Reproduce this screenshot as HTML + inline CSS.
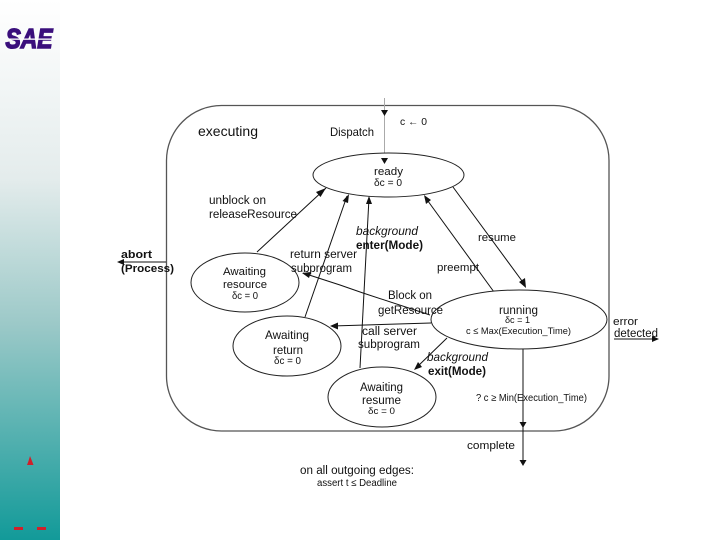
<!DOCTYPE html>
<html>
<head>
<meta charset="utf-8">
<style>
html,body{margin:0;padding:0;background:#fff;}
svg{display:block;}
text{font-family:"Liberation Sans",sans-serif;fill:#111;}
.b{font-weight:bold;}
.i{font-style:italic;}
</style>
</head>
<body>
<svg width="720" height="540" viewBox="0 0 720 540" xmlns="http://www.w3.org/2000/svg">
<defs>
<linearGradient id="g" x1="0" y1="0" x2="0" y2="1">
<stop offset="0" stop-color="#ffffff"/>
<stop offset="0.33" stop-color="#e4ecec"/>
<stop offset="0.6" stop-color="#9cc9c8"/>
<stop offset="1" stop-color="#129a99"/>
</linearGradient>
</defs>
<rect x="0" y="0" width="60" height="540" fill="url(#g)"/>

<!-- logo -->
<text x="5.500" y="48" font-size="28" class="b i" style="fill:#3a0f7c;stroke:#3a0f7c;stroke-width:1.500" textLength="47" lengthAdjust="spacingAndGlyphs">SAE</text>
<rect x="9" y="38.500" width="44" height="1.300" fill="#ffffff"/>

<!-- red marks -->
<polygon points="30,456 32,461 33.500,465 27,465 28.500,461" fill="#d0202a"/>
<rect x="14" y="527" width="9" height="3" fill="#d0202a"/>
<rect x="37" y="527" width="9" height="3" fill="#d0202a"/>

<!-- container -->
<rect x="166.500" y="105.500" width="442.500" height="325.500" rx="55" ry="55" fill="none" stroke="#555" stroke-width="1.300"/>

<!-- connectors -->
<g fill="none" stroke="#111" stroke-width="1">
<line x1="384.500" y1="98" x2="384.500" y2="160" stroke="#aaa"/>
<line x1="257" y1="252" x2="326" y2="188"/>
<line x1="305" y1="317" x2="347" y2="196"/>
<line x1="360" y1="368" x2="369" y2="198"/>
<line x1="494" y1="292" x2="425" y2="197"/>
<line x1="453" y1="187" x2="525" y2="285"/>
<path d="M430,315 L363,293 L340,285 L303,273"/>
<line x1="431" y1="323" x2="332" y2="326"/>
<line x1="447" y1="338" x2="416" y2="368"/>
<line x1="523" y1="349" x2="523" y2="462"/>
<line x1="121" y1="262" x2="166" y2="262"/>
<line x1="614" y1="339" x2="655" y2="339"/>
</g>

<!-- ellipses -->
<g fill="#fff" stroke="#222" stroke-width="1">
<ellipse cx="388.500" cy="175" rx="75.500" ry="22"/>
<ellipse cx="245" cy="282.500" rx="54" ry="29.500"/>
<ellipse cx="287" cy="346" rx="54" ry="30"/>
<ellipse cx="382" cy="397" rx="54" ry="30"/>
<ellipse cx="519" cy="319.500" rx="88" ry="29.500"/>
</g>

<!-- arrowheads -->
<g fill="#111">
<polygon points="384.500,116 381,110 388,110"/>
<polygon points="384.500,164 381,158 388,158"/>
<polygon points="326,188 320.500,197 316,192"/>
<polygon points="349,194 348,203 342.500,201"/>
<polygon points="369,196 372,204 366,204"/>
<polygon points="424,195 431,200 426,204"/>
<polygon points="526,288 519,282 525,278"/>
<polygon points="302,273 311,272 309,278"/>
<polygon points="330,326 338,322.500 338,329.500"/>
<polygon points="414,370 418,362 422,367"/>
<polygon points="523,428 519.500,422 526.500,422"/>
<polygon points="523,466 519.500,460 526.500,460"/>
<polygon points="117,262 124,259 124,265"/>
<polygon points="659,339 652,336 652,342"/>
</g>

<!-- labels -->
<text x="198" y="136" font-size="13.500" textLength="60" lengthAdjust="spacingAndGlyphs">executing</text>
<text x="330" y="136" font-size="12" textLength="44" lengthAdjust="spacingAndGlyphs">Dispatch</text>
<text x="400" y="125" font-size="10" textLength="27" lengthAdjust="spacingAndGlyphs">c ← 0</text>

<text x="374" y="175" font-size="11" textLength="29" lengthAdjust="spacingAndGlyphs">ready</text>
<text x="374" y="186" font-size="10.500" textLength="28" lengthAdjust="spacingAndGlyphs">δc = 0</text>

<text x="209" y="204" font-size="11.500" textLength="57" lengthAdjust="spacingAndGlyphs">unblock on</text>
<text x="209" y="218" font-size="11.500" textLength="88" lengthAdjust="spacingAndGlyphs">releaseResource</text>

<text x="356" y="235" font-size="12" class="i" textLength="62" lengthAdjust="spacingAndGlyphs">background</text>
<text x="356" y="249" font-size="12" class="b" textLength="67" lengthAdjust="spacingAndGlyphs">enter(Mode)</text>

<text x="478" y="241" font-size="11" textLength="38" lengthAdjust="spacingAndGlyphs">resume</text>
<text x="437" y="271" font-size="11" textLength="42" lengthAdjust="spacingAndGlyphs">preempt</text>

<text x="290" y="258" font-size="11.500" textLength="67" lengthAdjust="spacingAndGlyphs">return server</text>
<text x="291" y="272" font-size="11.500" textLength="61" lengthAdjust="spacingAndGlyphs">subprogram</text>

<text x="121" y="258" font-size="11" class="b" textLength="31" lengthAdjust="spacingAndGlyphs">abort</text>
<text x="121" y="272" font-size="11" class="b" textLength="53" lengthAdjust="spacingAndGlyphs">(Process)</text>

<text x="223" y="275" font-size="11" textLength="43" lengthAdjust="spacingAndGlyphs">Awaiting</text>
<text x="223" y="288" font-size="11" textLength="44" lengthAdjust="spacingAndGlyphs">resource</text>
<text x="232" y="299" font-size="10" textLength="26" lengthAdjust="spacingAndGlyphs">δc = 0</text>

<text x="265" y="339" font-size="12" textLength="44" lengthAdjust="spacingAndGlyphs">Awaiting</text>
<text x="273" y="354" font-size="12" textLength="30" lengthAdjust="spacingAndGlyphs">return</text>
<text x="274" y="364" font-size="10" textLength="27" lengthAdjust="spacingAndGlyphs">δc = 0</text>

<text x="388" y="299" font-size="11.500" textLength="44" lengthAdjust="spacingAndGlyphs">Block on</text>
<text x="378" y="314" font-size="11.500" textLength="65" lengthAdjust="spacingAndGlyphs">getResource</text>

<text x="362" y="335" font-size="11.500" textLength="55" lengthAdjust="spacingAndGlyphs">call server</text>
<text x="358" y="348" font-size="11.500" textLength="62" lengthAdjust="spacingAndGlyphs">subprogram</text>

<text x="499" y="314" font-size="11.500" textLength="39" lengthAdjust="spacingAndGlyphs">running</text>
<text x="505" y="323" font-size="9" textLength="25" lengthAdjust="spacingAndGlyphs">δc = 1</text>
<text x="466" y="334" font-size="9.500" textLength="105" lengthAdjust="spacingAndGlyphs">c ≤ Max(Execution_Time)</text>

<text x="613" y="325" font-size="11" textLength="25" lengthAdjust="spacingAndGlyphs">error</text>
<text x="614" y="337" font-size="11.500" textLength="44" lengthAdjust="spacingAndGlyphs">detected</text>

<text x="427" y="361" font-size="12" class="i" textLength="61" lengthAdjust="spacingAndGlyphs">background</text>
<text x="428" y="375" font-size="11.500" class="b" textLength="58" lengthAdjust="spacingAndGlyphs">exit(Mode)</text>

<text x="360" y="391" font-size="11.500" textLength="43" lengthAdjust="spacingAndGlyphs">Awaiting</text>
<text x="362" y="404" font-size="11.500" textLength="39" lengthAdjust="spacingAndGlyphs">resume</text>
<text x="368" y="414" font-size="9.500" textLength="27" lengthAdjust="spacingAndGlyphs">δc = 0</text>

<text x="476" y="401" font-size="10" textLength="111" lengthAdjust="spacingAndGlyphs">? c ≥ Min(Execution_Time)</text>

<text x="467" y="449" font-size="11" textLength="48" lengthAdjust="spacingAndGlyphs">complete</text>
<text x="300" y="474" font-size="11.500" textLength="114" lengthAdjust="spacingAndGlyphs">on all outgoing edges:</text>
<text x="317" y="486" font-size="10" textLength="80" lengthAdjust="spacingAndGlyphs">assert t ≤ Deadline</text>
</svg>
</body>
</html>
